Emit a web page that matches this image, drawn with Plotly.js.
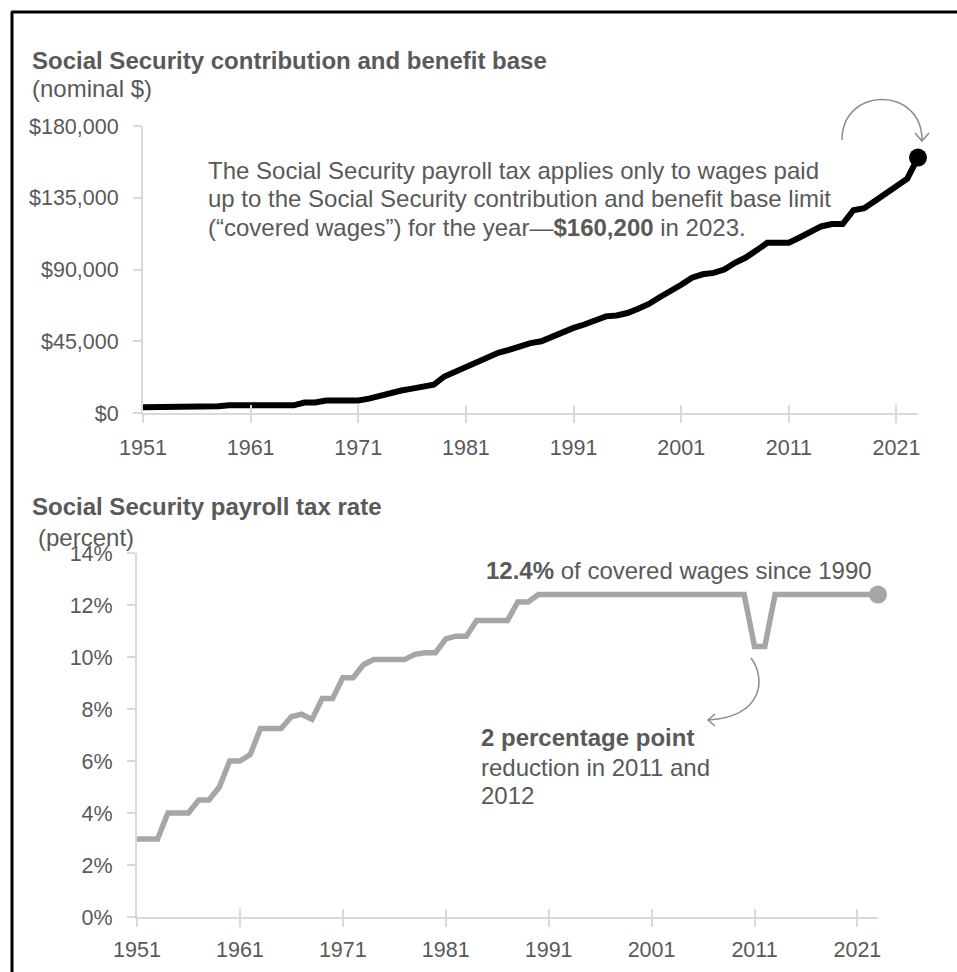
<!DOCTYPE html>
<html>
<head>
<meta charset="utf-8">
<script src="https://cdn.plot.ly/plotly-3.0.1.min.js"></script>
<style>
  html, body { margin: 0; padding: 0; background: #ffffff; }
  #chart { width: 957px; height: 972px; }
</style>
</head>
<body>
<div id="chart"></div>
<script>
// ---------------- data ----------------
const years = [1951,1952,1953,1954,1955,1956,1957,1958,1959,1960,
  1961,1962,1963,1964,1965,1966,1967,1968,1969,1970,
  1971,1972,1973,1974,1975,1976,1977,1978,1979,1980,
  1981,1982,1983,1984,1985,1986,1987,1988,1989,1990,
  1991,1992,1993,1994,1995,1996,1997,1998,1999,2000,
  2001,2002,2003,2004,2005,2006,2007,2008,2009,2010,
  2011,2012,2013,2014,2015,2016,2017,2018,2019,2020,
  2021,2022,2023];

// Social Security contribution and benefit base (nominal $)
const baseLimit = [3600,3600,3600,3600,4200,4200,4200,4200,4800,4800,
  4800,4800,4800,4800,4800,6600,6600,7800,7800,7800,
  7800,9000,10800,13200,14100,15300,16500,17700,22900,25900,
  29700,32400,35700,37800,39600,42000,43800,45000,48000,51300,
  53400,55500,57600,60600,61200,62700,65400,68400,72600,76200,
  80400,84900,87000,87900,90000,94200,97500,102000,106800,106800,
  106800,110100,113700,117000,118500,118500,127200,128400,132900,137700,
  142800,147000,160200];

// Social Security payroll tax rate (percent)
const taxRate = [3.0,3.0,3.0,4.0,4.0,4.0,4.5,4.5,5.0,6.0,
  6.0,6.25,7.25,7.25,7.25,7.7,7.8,7.6,8.4,8.4,
  9.2,9.2,9.7,9.9,9.9,9.9,9.9,10.1,10.16,10.16,
  10.7,10.8,10.8,11.4,11.4,11.4,11.4,12.12,12.12,12.4,
  12.4,12.4,12.4,12.4,12.4,12.4,12.4,12.4,12.4,12.4,
  12.4,12.4,12.4,12.4,12.4,12.4,12.4,12.4,12.4,12.4,
  10.4,10.4,12.4,12.4,12.4,12.4,12.4,12.4,12.4,12.4,
  12.4,12.4,12.4];

const xTickYears = [1951,1961,1971,1981,1991,2001,2011,2021];
const xTickLabels = ['1951','1961','1971','1981','1991','2001','2011','2021'];
const topYTicks = [0,45000,90000,135000,180000];
const topYLabels = ['$0','$45,000','$90,000','$135,000','$180,000'];
const botYTicks = [0,2,4,6,8,10,12,14];
const botYLabels = ['0%','2%','4%','6%','8%','10%','12%','14%'];

const topNote = [
  'The Social Security payroll tax applies only to wages paid',
  'up to the Social Security contribution and benefit base limit',
  '(\u201ccovered wages\u201d) for the year\u2014<b>$160,200</b> in 2023.'
];
const dipNote = [
  '<b>2 percentage point</b>',
  'reduction in 2011 and',
  '2012'
];

// ---------------- helpers (pixel -> paper, margins are 0) ----------------
const W = 957, H = 972;
const px = x => x / W;
const py = y => 1 - y / H;
const P = (x, y) => px(x).toFixed(5) + ',' + py(y).toFixed(5);

const TXT = '#595959';
const AX = '#d9d9d9';
const FONT = 'Liberation Sans, Arial, sans-serif';

const last = years.length - 1;

const traces = [
  { x: years, y: baseLimit, xaxis: 'x', yaxis: 'y', type: 'scatter', mode: 'lines',
    line: { color: '#000000', width: 6 }, hoverinfo: 'skip', showlegend: false },
  { x: [years[last]], y: [baseLimit[last]], xaxis: 'x', yaxis: 'y', type: 'scatter', mode: 'markers',
    marker: { color: '#000000', size: 18 }, cliponaxis: false, hoverinfo: 'skip', showlegend: false },
  { x: years, y: taxRate, xaxis: 'x2', yaxis: 'y2', type: 'scatter', mode: 'lines',
    line: { color: '#a6a6a6', width: 5.5 }, hoverinfo: 'skip', showlegend: false },
  { x: [years[last]], y: [taxRate[last]], xaxis: 'x2', yaxis: 'y2', type: 'scatter', mode: 'markers',
    marker: { color: '#a6a6a6', size: 18 }, cliponaxis: false, hoverinfo: 'skip', showlegend: false },
  // empty traces to host the overlay axes that give crossing tick marks
  { x: [], y: [], xaxis: 'x3', yaxis: 'y', type: 'scatter', showlegend: false },
  { x: [], y: [], xaxis: 'x4', yaxis: 'y2', type: 'scatter', showlegend: false }
];

const TICKSZ = 21.5;
const xCommon = {
  range: [1951, 2023], tickmode: 'array', tickvals: xTickYears, ticktext: xTickLabels,
  showgrid: false, zeroline: false, showline: true, linecolor: AX, linewidth: 2,
  ticks: 'outside', ticklen: 8, tickwidth: 2, tickcolor: AX,
  tickfont: { family: FONT, size: TICKSZ, color: TXT }, fixedrange: true
};
const xInside = {
  range: [1951, 2023], tickmode: 'array', tickvals: xTickYears, showticklabels: false,
  showgrid: false, zeroline: false, showline: false,
  ticks: 'inside', ticklen: 8, tickwidth: 2, tickcolor: AX, fixedrange: true
};

const topXDom = [px(143), px(918)];
const botXDom = [px(137), px(878)];

function note(x, y, text, size) {
  return { xref: 'paper', yref: 'paper', x: px(x), y: py(y), xanchor: 'left', yanchor: 'middle',
    align: 'left', text: text, showarrow: false, borderpad: 0,
    font: { family: FONT, size: size, color: TXT } };
}

const annotations = [
  note(31, 60, '<b>Social Security contribution and benefit base</b>', 24),
  note(31, 88, '(nominal $)', 24),
  note(31, 506, '<b>Social Security payroll tax rate</b>', 24),
  note(37, 537, '(percent)', 24),
  note(485, 570, '<b>12.4%</b> of covered wages since 1990', 24)
];
const topLineY = [170, 199, 228];
topNote.forEach((t, i) => annotations.push(note(207, topLineY[i], t, 24)));
const dipLineY = [737, 767, 795];
dipNote.forEach((t, i) => annotations.push(note(480, dipLineY[i], t, 24)));

const layout = {
  width: W, height: H,
  margin: { l: 0, r: 0, t: 0, b: 0, pad: 0 },
  paper_bgcolor: '#ffffff', plot_bgcolor: 'rgba(0,0,0,0)',
  showlegend: false,
  font: { family: FONT, color: TXT },
  xaxis: Object.assign({}, xCommon, { domain: topXDom, anchor: 'y', ticklabelstandoff: 6 }),
  yaxis: {
    domain: [py(413), py(126)], anchor: 'x', range: [0, 180000],
    tickmode: 'array', tickvals: topYTicks, ticktext: topYLabels,
    showgrid: false, zeroline: false, showline: true, linecolor: AX, linewidth: 2,
    ticks: 'outside', ticklen: 8, tickwidth: 2, tickcolor: AX,
    tickfont: { family: FONT, size: TICKSZ, color: TXT }, ticklabelstandoff: 10, fixedrange: true
  },
  xaxis3: Object.assign({}, xInside, { domain: topXDom, anchor: 'y', overlaying: 'x' }),
  xaxis2: Object.assign({}, xCommon, { domain: botXDom, anchor: 'y2', ticklabelstandoff: 4 }),
  yaxis2: {
    domain: [py(917), py(553)], anchor: 'x2', range: [0, 14],
    tickmode: 'array', tickvals: botYTicks, ticktext: botYLabels,
    showgrid: false, zeroline: false, showline: true, linecolor: AX, linewidth: 2,
    ticks: 'outside', ticklen: 8, tickwidth: 2, tickcolor: AX,
    tickfont: { family: FONT, size: TICKSZ, color: TXT }, ticklabelstandoff: 10, fixedrange: true
  },
  xaxis4: Object.assign({}, xInside, { domain: botXDom, anchor: 'y2', overlaying: 'x2' }),
  annotations: annotations,
  shapes: [
    // frame (left and top edges)
    { type: 'line', xref: 'paper', yref: 'paper', x0: px(12), y0: py(12), x1: px(12), y1: py(1000),
      line: { color: '#000000', width: 3 } },
    { type: 'line', xref: 'paper', yref: 'paper', x0: px(11), y0: py(12), x1: px(980), y1: py(12),
      line: { color: '#000000', width: 3 } },
    // curved arrow pointing at the 2023 value (top)
    { type: 'path', xref: 'paper', yref: 'paper',
      path: 'M ' + P(842, 140) + ' C ' + P(842, 86) + ' ' + P(922, 86) + ' ' + P(922, 140),
      line: { color: '#8c8c8c', width: 1.5 } },
    { type: 'path', xref: 'paper', yref: 'paper',
      path: 'M ' + P(915, 133) + ' L ' + P(922, 141) + ' L ' + P(929, 133),
      line: { color: '#8c8c8c', width: 1.5 } },
    // curved arrow from the 2011-2012 dip to the note (bottom)
    { type: 'path', xref: 'paper', yref: 'paper',
      path: 'M ' + P(751, 658) + ' C ' + P(766, 678) + ' ' + P(764, 716) + ' ' + P(709, 720),
      line: { color: '#8c8c8c', width: 1.5 } },
    { type: 'path', xref: 'paper', yref: 'paper',
      path: 'M ' + P(715, 714) + ' L ' + P(708, 720) + ' L ' + P(715, 726),
      line: { color: '#8c8c8c', width: 1.5 } }
  ]
};

Plotly.newPlot('chart', traces, layout, { staticPlot: true, displayModeBar: false });
</script>
</body>
</html>
